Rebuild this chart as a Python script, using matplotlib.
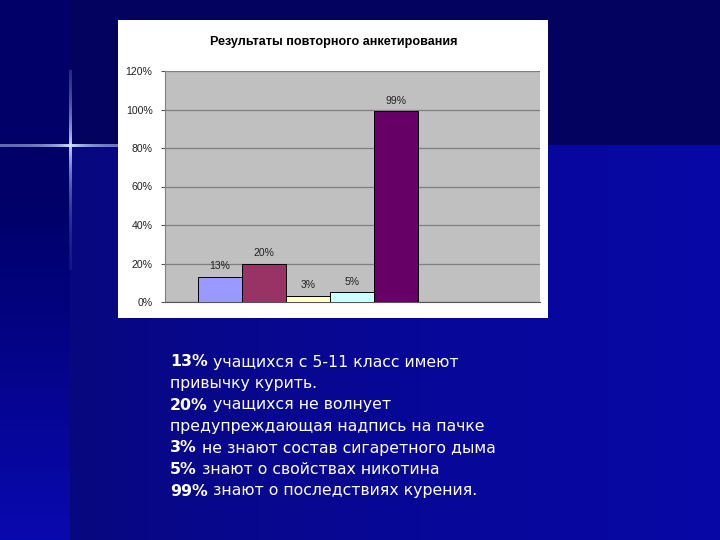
import numpy as np
import matplotlib.pyplot as plt
from matplotlib.colors import to_rgb
from matplotlib.patches import Rectangle

# chart data
labels = ["13%", "20%", "3%", "5%", "99%"]
values = [13, 20, 3, 5, 99]
colors = ["#9999ff", "#993366", "#ffffcc", "#ccffff", "#660066"]
yticks = [0, 20, 40, 60, 80, 100, 120]
title = "Результаты повторного анкетирования"

# slide text: (bold part, regular part)
lines = [
    ("13%", " учащихся с 5-11 класс имеют"),
    ("", "привычку курить."),
    ("20%", " учащихся не волнует"),
    ("", "предупреждающая надпись на пачке"),
    ("3%", " не знают состав сигаретного дыма"),
    ("5%", " знают о свойствах никотина"),
    ("99%", " знают о последствиях курения."),
]


def make_background(w=720, h=540):
    """Dark blue slide background with a gradient."""
    img = np.zeros((h, w, 3))
    top = np.array(to_rgb("#03035f"))
    left_top = np.array(to_rgb("#000068"))
    left_bot = np.array(to_rgb("#0909b0"))
    mid = np.array(to_rgb("#08087e"))
    right = np.array(to_rgb("#0707a6"))
    for y in range(h):
        t = max(0, (y - 200) / (h - 200))
        img[y, :70] = left_top * (1 - t) + left_bot * t
    for x in range(70, w):
        t = ((x - 70) / (w - 70)) ** 0.7
        img[145:, x] = mid * (1 - t) + right * t
    img[:145, 70:] = top
    # little sparkle
    glow = np.array([0.8, 0.88, 1.0])
    for x in range(0, 120):
        a = 0.45 + 0.55 * np.exp(-abs(x - 70) / 20.0)
        img[144:147, x] = img[144:147, x] * (1 - a) + glow * a
    for y in range(70, 270):
        a = 0.95 * np.exp(-abs(y - 145) / 45.0)
        img[y, 69:72] = img[y, 69:72] * (1 - a) + glow * a
    return img


fig = plt.figure(figsize=(7.2, 5.4), dpi=100)

bg = fig.add_axes([0, 0, 1, 1])
bg.imshow(make_background(), aspect="auto", extent=[0, 720, 540, 0])
bg.set_xlim(0, 720)
bg.set_ylim(540, 0)
bg.axis("off")

# white chart frame
fig.patches.append(Rectangle((118 / 720, 1 - 318 / 540), 430 / 720, 298 / 540,
                             transform=fig.transFigure, facecolor="white",
                             edgecolor="none", zorder=1))
fig.text(334 / 720, 1 - 42 / 540, title, ha="center", va="center",
         fontsize=9.1, fontweight="bold", family="Liberation Sans", zorder=2)

ax = fig.add_axes([165 / 720, 238 / 540, 375 / 720, 231 / 540], zorder=2)
ax.set_facecolor("#c0c0c0")
x = np.arange(len(values))
bars = ax.bar(x, values, width=1.0, color=colors, edgecolor="black",
              linewidth=0.7, zorder=3)
for b, lab in zip(bars, labels):
    ax.text(b.get_x() + b.get_width() / 2, b.get_height() + 3, lab,
            ha="center", va="bottom", fontsize=7.5, color="#222222",
            family="Liberation Sans")

ax.set_xlim(-1.25, 7.27)
ax.set_ylim(0, 120)
ax.set_yticks(yticks)
ax.set_yticklabels([f"{v}%" for v in yticks], fontsize=7.6, color="#222222",
                   family="Liberation Sans")
ax.set_xticks([])
ax.tick_params(axis="y", length=3, color="#555555", pad=6)
ax.yaxis.grid(True, color="#7f7f7f", linewidth=0.9)
ax.set_axisbelow(True)
for side in ["top", "right"]:
    ax.spines[side].set_visible(False)
ax.spines["left"].set_color("#7f7f7f")
ax.spines["bottom"].set_color("#555555")

# slide text
y0 = 362
step = 21.5
for i, (bold, rest) in enumerate(lines):
    yy = y0 + i * step
    if bold:
        t = bg.text(170, yy, bold, color="white", fontsize=11.3,
                    fontweight="bold", va="center", ha="left")
        bg.annotate(rest, xy=(1, 0.5), xycoords=t, va="center", ha="left",
                    color="white", fontsize=11.3)
    else:
        bg.text(170, yy, rest, color="white", fontsize=11.3, va="center",
                ha="left")

fig.savefig("out.png", dpi=100)
